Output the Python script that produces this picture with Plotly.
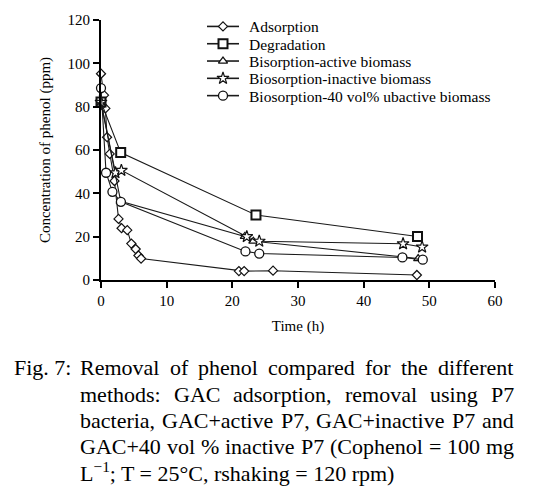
import plotly.graph_objects as go

# ---------------- Data ----------------
ads_t = [0, 0.46, 0.67, 0.92, 1.33, 2.05, 2.67, 3.13, 4.0, 4.62, 5.28, 5.7, 6.1, 21.0, 21.8, 26.2, 48.1]
ads_c = [95.2, 85.3, 79.2, 65.9, 58.2, 45.7, 28.2, 23.9, 23.0, 16.8, 14.3, 11.3, 9.9, 4.1, 4.1, 4.3, 2.3]

deg_t = [0, 3.0, 23.6, 48.2]
deg_c = [82.2, 58.8, 30.0, 20.1]

act_t = [0, 3.0, 21.9, 23.2, 48.3]
act_c = [82.0, 36.3, 20.1, 17.9, 9.9]

ina_t = [0, 2.2, 3.1, 22.2, 24.1, 46.0, 48.9]
ina_c = [82.0, 49.5, 50.6, 20.0, 17.9, 16.7, 15.2]

v40_t = [0, 0.77, 1.74, 3.03, 22.0, 24.1, 45.9, 49.0]
v40_c = [88.6, 49.5, 40.7, 36.1, 13.2, 12.2, 10.4, 9.4]

names = ["Adsorption", "Degradation", "Bisorption-active biomass",
         "Biosorption-inactive biomass", "Biosorption-40 vol% ubactive biomass"]

x_ticks = [0, 10, 20, 30, 40, 50, 60]
y_ticks = [0, 20, 40, 60, 80, 100, 120]

caption_label = "Fig. 7:"
caption_lines = [
    "Removal of phenol compared for the different",
    "methods: GAC adsorption, removal using P7",
    "bacteria, GAC+active P7, GAC+inactive P7 and",
    "GAC+40 vol % inactive P7 (Cophenol = 100 mg",
]
caption_last = "L<sup>\u22121</sup>; T = 25\u00b0C, rshaking = 120 rpm)"

# ---------------- Styling / layout ----------------
W, H = 536, 492
PL, PR, PT, PB = 101, 495, 17, 280   # plot area in page pixels
FONT = "Liberation Serif, Times New Roman, serif"

def fx(px):  # page px -> plot-area paper fraction
    return (px - PL) / (PR - PL)

def fy(py):
    return (PB - py) / (PB - PT)

# Times / Liberation Serif advance widths (per 1000 em)
TW = {' ': 250, ',': 250, '.': 250, ':': 278, ';': 278, '+': 564, '=': 564, '(': 333, ')': 333,
      '%': 833, '-': 333}
for ch, w in zip("abcdefghijklmnopqrstuvwxyz",
                 [444, 500, 444, 500, 444, 333, 500, 500, 278, 278, 500, 278, 778, 500, 500, 500, 500,
                  333, 389, 278, 500, 500, 722, 500, 500, 444]):
    TW[ch] = w
for ch, w in zip("ABCDEFGHIJKLMNOPQRSTUVWXYZ",
                 [722, 667, 667, 722, 611, 556, 722, 722, 333, 389, 722, 611, 889, 722, 722, 556, 722,
                  667, 556, 611, 722, 722, 944, 722, 722, 611]):
    TW[ch] = w
for d in "0123456789":
    TW[d] = 500

def word_w(wd, size):
    return sum(TW.get(c, 500) for c in wd) * size / 1000.0

series = [
    (ads_t, ads_c, "diamond", 7, 1.2),
    (deg_t, deg_c, "square", 9, 2.0),
    (act_t, act_c, "triangle-up", 8, 1.2),
    (ina_t, ina_c, "star", 9, 1.2),
    (v40_t, v40_c, "circle", 9, 1.3),
]

fig = go.Figure()
for (t, c, sym, sz, lw), nm in zip(series, names):
    fig.add_trace(go.Scatter(
        x=t, y=c, name=nm, mode="lines+markers", showlegend=False,
        line=dict(color="#1a1a1a", width=1.1),
        marker=dict(symbol=sym, size=sz, color="white",
                    line=dict(color="#111111", width=lw)),
        cliponaxis=False,
    ))

# Manual legend (pixel-coordinate overlay axes)
leg_rows = [23.5, 41, 58.5, 76, 93.5]
for (t, c, sym, sz, lw), nm, ry in zip(series, names, leg_rows):
    fig.add_trace(go.Scatter(
        x=[207, 239], y=[ry, ry], mode="lines", xaxis="x2", yaxis="y2",
        line=dict(color="#1a1a1a", width=1.6), showlegend=False, hoverinfo="skip"))
    fig.add_trace(go.Scatter(
        x=[223], y=[ry], mode="markers", xaxis="x2", yaxis="y2",
        marker=dict(symbol=sym, size=sz, color="white", line=dict(color="#111111", width=lw)),
        showlegend=False, hoverinfo="skip"))
    fig.add_annotation(text=nm, xref="paper", yref="paper", x=fx(247), y=fy(ry + 0.5),
                       xanchor="left", yanchor="middle", showarrow=False,
                       font=dict(size=15.5, family=FONT, color="black"))

fig.update_layout(
    width=W, height=H,
    margin=dict(l=PL, r=W - PR, t=PT, b=H - PB),
    paper_bgcolor="white", plot_bgcolor="white",
    font=dict(family=FONT, color="black", size=15),
    showlegend=False,
    xaxis=dict(range=[0, 60], tickvals=x_ticks, showgrid=False, zeroline=False,
               showline=True, linecolor="black", linewidth=2,
               ticks="outside", ticklen=6, tickwidth=2, tickcolor="black",
               tickfont=dict(size=15, family=FONT),
               title=dict(text="Time (h)", font=dict(size=15, family=FONT), standoff=12)),
    yaxis=dict(range=[0, 120], tickvals=y_ticks, showgrid=False, zeroline=False,
               showline=True, linecolor="black", linewidth=2,
               ticks="outside", ticklen=6, tickwidth=2, tickcolor="black",
               tickfont=dict(size=15, family=FONT),
               title=dict(text="Concentration of phenol (ppm)", font=dict(size=15, family=FONT),
                          standoff=13)),
    xaxis2=dict(range=[PL, PR], overlaying="x", visible=False, fixedrange=True),
    yaxis2=dict(range=[PB, PT], overlaying="y", visible=False, fixedrange=True),
)

# ---------------- Caption (justified) ----------------
CS = 22
line_y = [369, 395.5, 422, 448]
fig.add_annotation(text=caption_label, xref="paper", yref="paper", x=fx(12), y=fy(369),
                   xanchor="left", yanchor="middle", showarrow=False,
                   font=dict(size=CS, family=FONT, color="black"))
X0, X1 = 78, 512
for line, yy in zip(caption_lines, line_y):
    words = line.split(" ")
    widths = [word_w(w, CS) for w in words]
    gap = (X1 - X0 - sum(widths)) / (len(words) - 1)
    x = X0
    for wd, ww in zip(words, widths):
        fig.add_annotation(text=wd, xref="paper", yref="paper", x=fx(x), y=fy(yy),
                           xanchor="left", yanchor="middle", showarrow=False,
                           font=dict(size=CS, family=FONT, color="black"))
        x += ww + gap
fig.add_annotation(text=caption_last, xref="paper", yref="paper", x=fx(X0), y=fy(474),
                   xanchor="left", yanchor="middle", showarrow=False,
                   font=dict(size=CS, family=FONT, color="black"))

fig.write_html("out.html")
